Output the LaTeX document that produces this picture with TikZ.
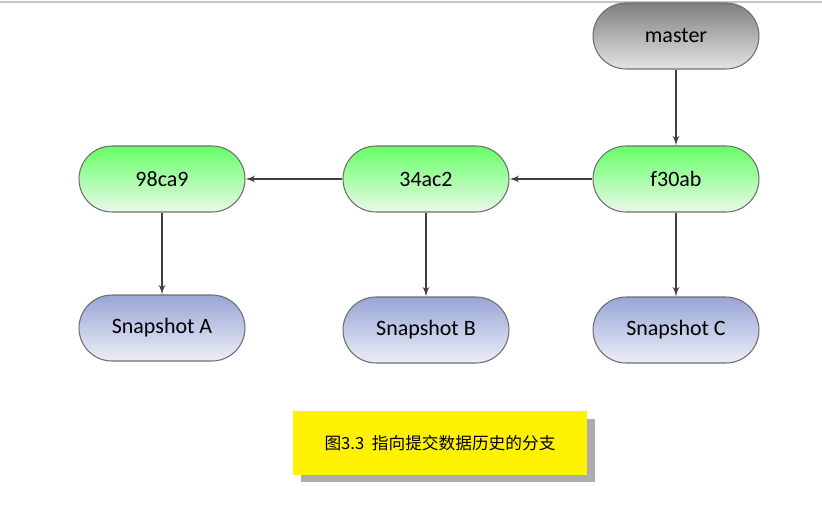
\documentclass[tikz,border=0pt]{standalone}
\usepackage{fontspec}
\setmainfont{Carlito}
\newfontfamily\cjk{Noto Sans CJK SC}
\usepackage{tikz}
\usetikzlibrary{arrows,shadows}

\definecolor{bordergray}{HTML}{6E6E6E}
\definecolor{edgegray}{HTML}{404040}
\definecolor{commitTop}{HTML}{66FF66}
\definecolor{commitBot}{HTML}{EAF8EA}
\definecolor{snapTop}{HTML}{98A6D6}
\definecolor{snapBot}{HTML}{ECEEF7}
\definecolor{refTop}{HTML}{7F7F7F}
\definecolor{refBot}{HTML}{E4E4E4}

\begin{document}
\begin{tikzpicture}
			[x=0.02cm,y=-0.02cm,
			every node/.style={draw=bordergray,line width=0.6pt,rounded corners=0.66cm,minimum width=3.32cm,minimum height=1.32cm,inner sep=0pt,font=\fontsize{12.5}{15}\selectfont},
			commit/.style={top color=commitTop,bottom color=commitBot},
			snap/.style={top color=snapTop,bottom color=snapBot},
			branch/.style={top color=refTop,bottom color=refBot},
			edge/.style={->,> = latex',draw=edgegray,line width=0.9pt}]
			\useasboundingbox (0,0) rectangle (822,523);
			\draw[gray!45,line width=1.2pt] (0,2) -- (822,2);
			
			\node[branch] (master) at (676,36)  {master};
			\node[commit] (f30ab) at (676,179)  {f30ab};
			\node[commit] (34ac2) at (426,179)  {34ac2};
			\node[commit] (98ca9) at (162,179)  {98ca9};
			\node[snap] (snapC) at (676,330)  {Snapshot C};
			\node[snap] (snapB) at (426,330)  {Snapshot B};
			\node[snap] (snapA) at (162,328)  {Snapshot A};
			
			\foreach \from/\to in {master/f30ab,f30ab/34ac2,34ac2/98ca9,f30ab/snapC,34ac2/snapB,98ca9/snapA}
			\draw[edge] (\from) to (\to);
			
			\node[draw=none,rounded corners=0pt,fill=yellow,minimum width=5.88cm,minimum height=1.28cm,
			drop shadow={shadow xshift=0.16cm,shadow yshift=-0.15cm,fill=black!32,opacity=1},
			font=\cjk\fontsize{9.5}{11}\selectfont] (caption) at (440,443) {图3.3\ \ 指向提交数据历史的分支};
			\end{tikzpicture}
\end{document}
